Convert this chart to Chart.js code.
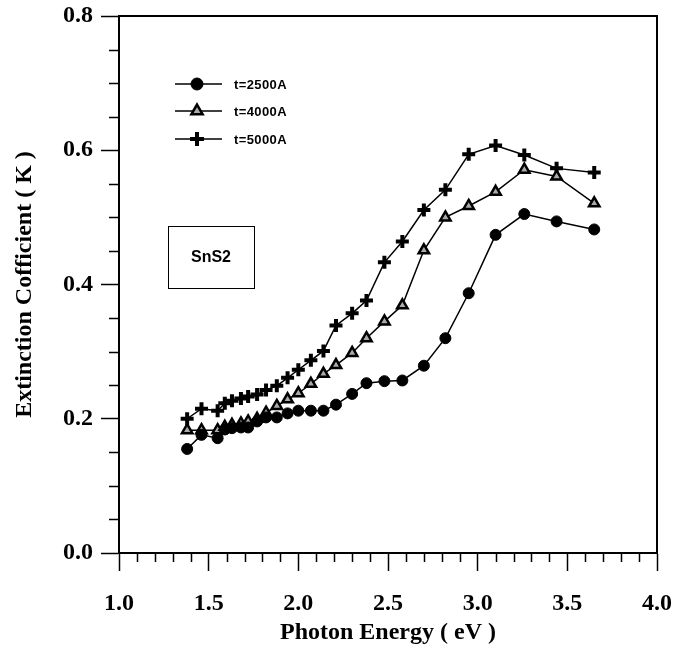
<!DOCTYPE html>
<html>
<head>
<meta charset="utf-8">
<script src="https://cdn.jsdelivr.net/npm/chart.js@4/dist/chart.umd.min.js"></script>
<style>
  html, body { margin: 0; padding: 0; background: #fff; }
  #wrap { width: 676px; height: 646px; }
</style>
</head>
<body>
<div id="wrap"><canvas id="c" width="676" height="646"></canvas></div>
<script>
// Photon energy (eV)
const energy = [1.38,1.46,1.55,1.59,1.63,1.68,1.72,1.77,1.82,1.88,1.94,2.00,2.07,2.14,2.21,2.30,2.38,2.48,2.58,2.70,2.82,2.95,3.10,3.26,3.44,3.65];
// Extinction coefficient K for each film thickness
const k2500 = [0.155,0.176,0.171,0.184,0.186,0.187,0.187,0.196,0.202,0.202,0.208,0.212,0.212,0.212,0.221,0.237,0.253,0.256,0.257,0.279,0.320,0.387,0.474,0.505,0.494,0.482];
const k4000 = [0.183,0.183,0.183,0.188,0.191,0.193,0.196,0.200,0.209,0.219,0.229,0.238,0.252,0.267,0.280,0.298,0.320,0.345,0.369,0.451,0.500,0.517,0.538,0.571,0.561,0.521];
const k5000 = [0.200,0.215,0.212,0.223,0.227,0.230,0.233,0.236,0.243,0.249,0.261,0.273,0.287,0.301,0.339,0.357,0.376,0.433,0.464,0.511,0.541,0.594,0.607,0.593,0.573,0.567];
const seriesLabels = ["t=2500A", "t=4000A", "t=5000A"];
const xTitle = "Photon Energy ( eV )";
const yTitle = "Extinction Cofficient ( K )";
const sampleLabel = "SnS2";

const toPts = arr => energy.map((e, i) => ({x: e, y: arr[i]}));

const styles = [
  {pointStyle: 'circle', radius: 5.5, borderWidth: 1, bg: '#000'},
  {pointStyle: 'triangle', radius: 6, borderWidth: 2.5, bg: '#aaa'},
  {pointStyle: 'cross', radius: 6.5, borderWidth: 4, bg: '#000'}
];

const datasets = [k2500, k4000, k5000].map((arr, i) => ({
  label: seriesLabels[i],
  data: toPts(arr),
  borderColor: '#000',
  borderWidth: 1.5,
  backgroundColor: styles[i].bg,
  pointStyle: styles[i].pointStyle,
  pointRadius: styles[i].radius,
  pointBorderWidth: styles[i].borderWidth,
  pointBorderColor: '#000',
  pointBackgroundColor: styles[i].bg,
  tension: 0,
  fill: false
}));

const decor = {
  id: 'decor',
  afterDraw(chart) {
    const ctx = chart.ctx;
    const a = chart.chartArea;
    const xs = chart.scales.x, ys = chart.scales.y;
    ctx.save();
    ctx.strokeStyle = '#000';
    // frame top & right
    ctx.lineWidth = 2;
    ctx.beginPath();
    ctx.moveTo(a.left, a.top); ctx.lineTo(a.right, a.top); ctx.lineTo(a.right, a.bottom);
    ctx.stroke();
    // minor ticks
    ctx.lineWidth = 1.5;
    ctx.beginPath();
    for (let i = 0; i <= 30; i++) {
      if (i % 5 === 0) continue;
      const px = Math.round(xs.getPixelForValue(1 + i * 0.1)) + 0.5;
      ctx.moveTo(px, a.bottom); ctx.lineTo(px, a.bottom + 9);
    }
    for (let i = 0; i <= 16; i++) {
      if (i % 4 === 0) continue;
      const py = Math.round(ys.getPixelForValue(i * 0.05)) + 0.5;
      ctx.moveTo(a.left - 10, py); ctx.lineTo(a.left, py);
    }
    ctx.stroke();

    // legend
    const rows = [84, 111, 139];
    chart.data.datasets.forEach((ds, i) => {
      const y = rows[i];
      ctx.strokeStyle = '#000';
      ctx.lineWidth = 1.5;
      ctx.beginPath(); ctx.moveTo(175, y); ctx.lineTo(222, y); ctx.stroke();
      ctx.fillStyle = ds.pointBackgroundColor;
      ctx.lineWidth = ds.pointBorderWidth;
      Chart.helpers.drawPoint(ctx, {pointStyle: ds.pointStyle, radius: ds.pointRadius + 0.5, rotation: 0, borderWidth: ds.pointBorderWidth}, 197, y);
      ctx.fillStyle = '#000';
      ctx.font = 'bold 13px "Liberation Sans", Arial, sans-serif';
      try { ctx.letterSpacing = '0.4px'; } catch (e) {}
      ctx.textBaseline = 'middle';
      ctx.textAlign = 'left';
      ctx.fillText(ds.label, 234, y + 1);
      try { ctx.letterSpacing = '0px'; } catch (e) {}
    });

    // sample box
    ctx.strokeStyle = '#000';
    ctx.lineWidth = 1;
    ctx.strokeRect(168.5, 226.5, 86, 62);
    ctx.fillStyle = '#000';
    ctx.font = 'bold 16px "Liberation Sans", Arial, sans-serif';
    ctx.textAlign = 'center';
    ctx.textBaseline = 'middle';
    ctx.fillText(sampleLabel, 211, 258);
    ctx.restore();
  }
};

const tickFont = {family: '"Liberation Serif", "Times New Roman", serif', size: 24, weight: 'bold'};

new Chart(document.getElementById('c'), {
  type: 'line',
  data: {datasets},
  options: {
    responsive: false,
    animation: false,
    layout: {padding: {top: 16, right: 19, left: 0, bottom: 0}},
    plugins: {legend: {display: false}, tooltip: {enabled: false}},
    scales: {
      x: {
        type: 'linear', min: 1, max: 4,
        afterFit: s => { s.height = 93; s.paddingLeft = 0; s.paddingRight = 0; },
        ticks: {stepSize: 0.5, color: '#000', font: tickFont, padding: 18, maxRotation: 0,
                callback: v => Number(v).toFixed(1)},
        grid: {drawOnChartArea: false, drawTicks: true, tickLength: 18, tickColor: '#000', tickWidth: 1.5},
        border: {display: true, color: '#000', width: 2},
        title: {display: true, text: xTitle, color: '#000', font: tickFont, padding: {top: 0, bottom: -1}}
      },
      y: {
        type: 'linear', min: 0, max: 0.8,
        afterFit: s => { s.width = 119; s.paddingTop = 0; s.paddingBottom = 0; },
        ticks: {stepSize: 0.2, color: '#000', font: tickFont, padding: 8,
                callback: v => Number(v).toFixed(1)},
        grid: {drawOnChartArea: false, drawTicks: true, tickLength: 18, tickColor: '#000', tickWidth: 1.5},
        border: {display: true, color: '#000', width: 2},
        title: {display: true, text: yTitle, color: '#000', font: tickFont, padding: {top: 10, bottom: 0}}
      }
    }
  },
  plugins: [decor]
});
</script>
</body>
</html>
